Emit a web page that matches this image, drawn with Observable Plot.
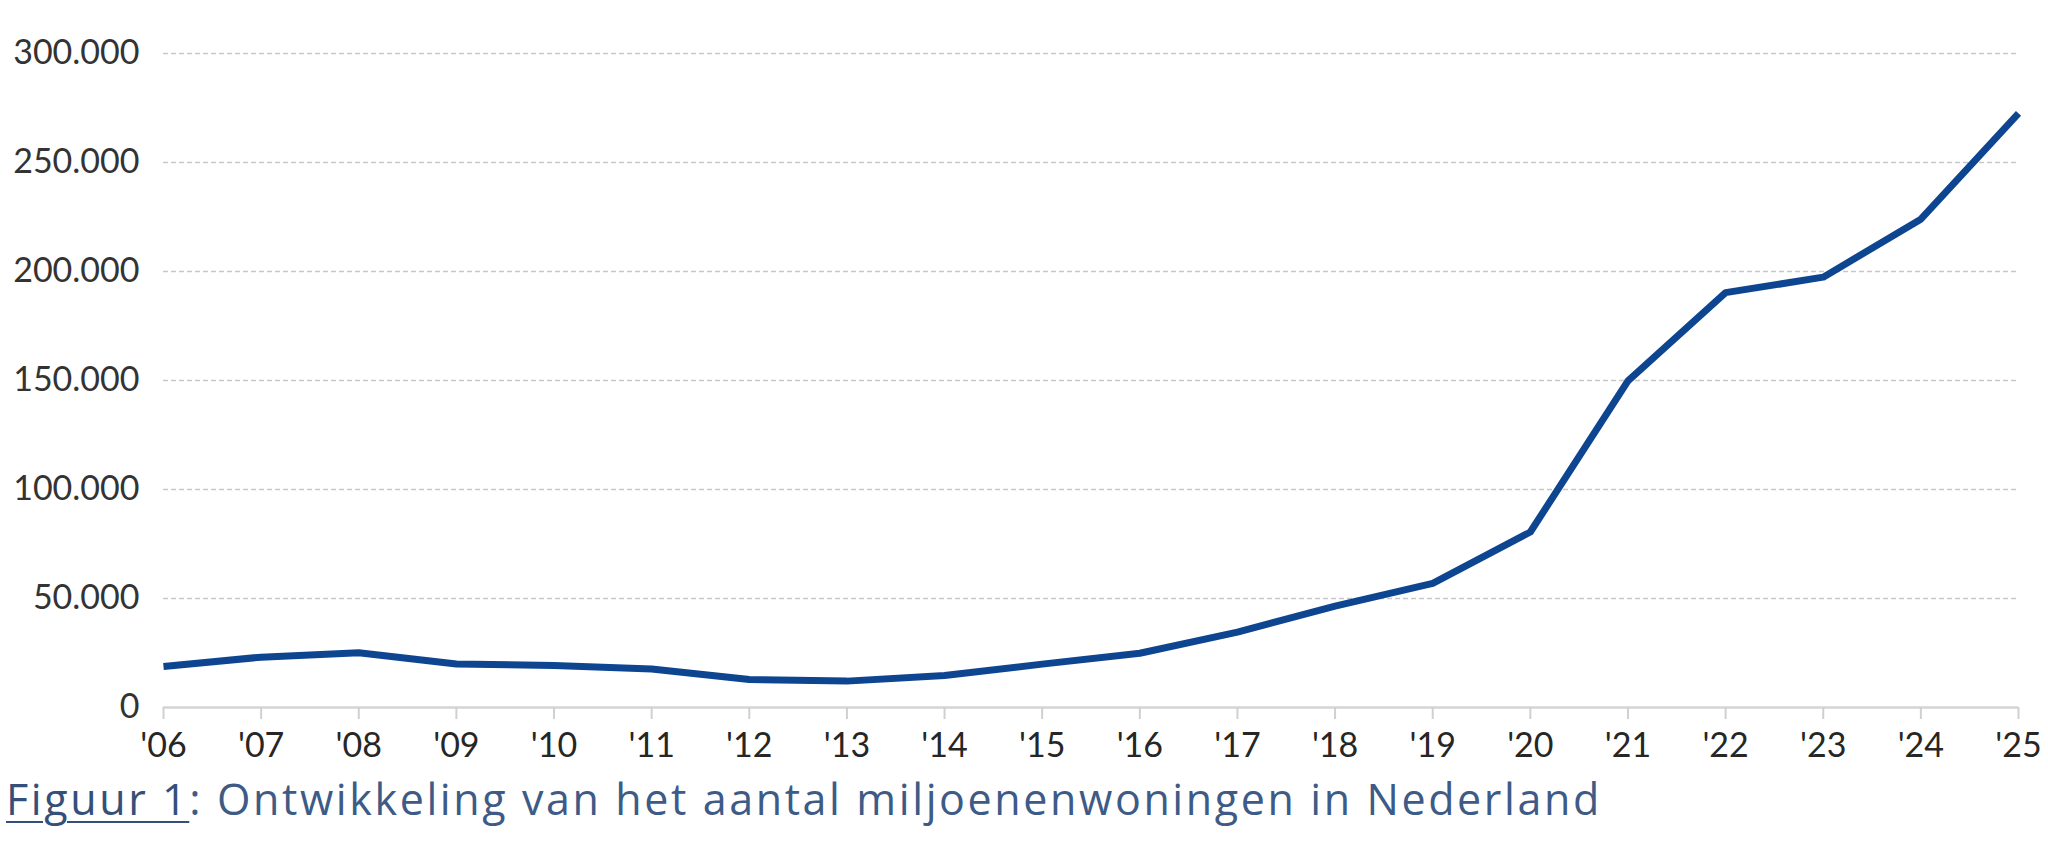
<!DOCTYPE html>
<html>
<head>
<meta charset="utf-8">
<script src="https://cdn.jsdelivr.net/npm/d3@7"></script>
<script src="https://cdn.jsdelivr.net/npm/@observablehq/plot@0.6"></script>
<style>
  html, body { margin: 0; padding: 0; background: #fff; }
  #chart svg { display: block; }
  #caption {
    font-family: "Open Sans", sans-serif;
    font-size: 43px;
    line-height: 60px;
    letter-spacing: 2.6px;
    color: #3d5b86;
    margin: -1px 0 0 6px;
    padding-bottom: 12px;
    white-space: nowrap;
  }
  #caption u { text-decoration-thickness: 2px; text-underline-offset: 6px; color: #34507a; }
</style>
</head>
<body>
<div id="chart"></div>
<div id="caption"><u>Figuur 1</u>: Ontwikkeling van het aantal miljoenenwoningen in Nederland</div>
<script>
const years = [2006, 2007, 2008, 2009, 2010, 2011, 2012, 2013, 2014, 2015,
               2016, 2017, 2018, 2019, 2020, 2021, 2022, 2023, 2024, 2025];
const yearLabels = ["'06","'07","'08","'09","'10","'11","'12","'13","'14","'15",
                    "'16","'17","'18","'19","'20","'21","'22","'23","'24","'25"];
const woningen = [18800, 23100, 25100, 20000, 19300, 17700, 12800, 12100, 14700, 19900,
                  24900, 34600, 46500, 56900, 80500, 149800, 190300, 197400, 224000, 272500];
const yTicks = [0, 50000, 100000, 150000, 200000, 250000, 300000];

const nl = d3.formatLocale({decimal: ",", thousands: ".", grouping: [3], currency: ["€", ""]});
const fmt = nl.format(",d");

const data = years.map((y, i) => ({year: y, label: yearLabels[i], value: woningen[i]}));

const chart = Plot.plot({
  width: 2048,
  height: 770,
  marginLeft: 163,
  marginRight: 30,
  marginTop: 53,
  marginBottom: 63,
  style: {fontFamily: "Lato, 'Open Sans', sans-serif", fontSize: "34px", color: "#333", background: "#fff"},
  x: {domain: [years[0], years[years.length - 1]]},
  y: {domain: [0, 300000]},
  marks: [
    Plot.ruleY(yTicks.filter(d => d > 0), {stroke: "#c8c8c8", strokeWidth: 1.6, strokeDasharray: "5,3"}),
    Plot.ruleY([0], {stroke: "#d4d4d4", strokeWidth: 2.5}),
    Plot.axisY({ticks: yTicks, tickFormat: fmt, tickSize: 0, tickPadding: 24, fill: "#333", label: null}),
    Plot.axisX({ticks: years, tickFormat: d => yearLabels[years.indexOf(d)], tickSize: 12, tickPadding: 13,
                stroke: "#d0d0d0", strokeWidth: 2, fill: "#262626", label: null}),
    Plot.line(data, {x: "year", y: "value", stroke: "#0e4591", strokeWidth: 7, strokeLinejoin: "round", strokeLinecap: "butt"})
  ]
});
document.getElementById("chart").appendChild(chart);
</script>
</body>
</html>
